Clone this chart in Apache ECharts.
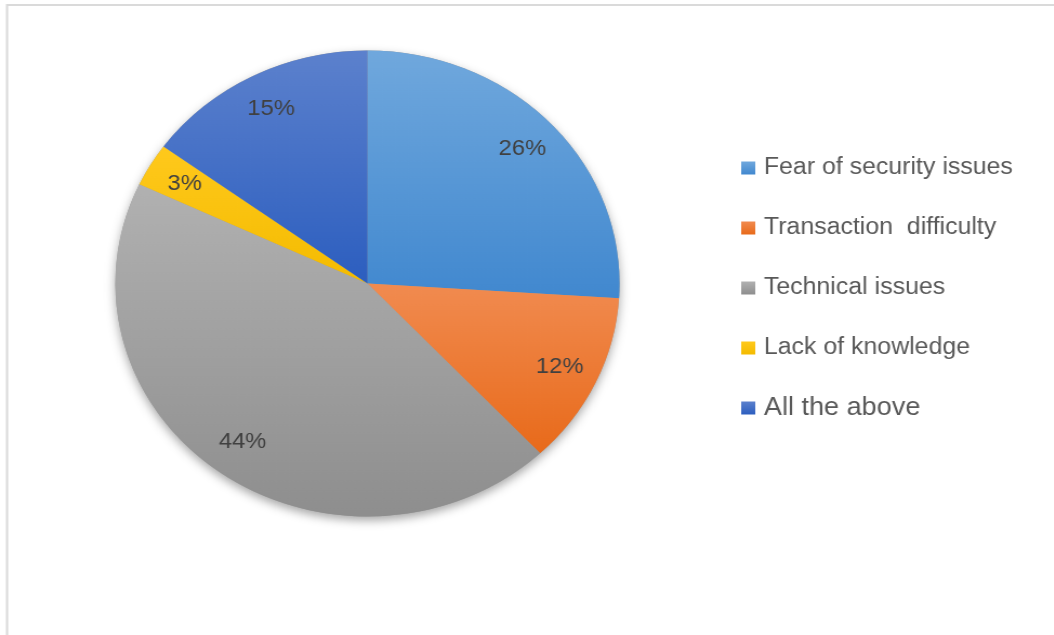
<!DOCTYPE html>
<html>
<head>
<meta charset="utf-8">
<style>
  html, body { margin: 0; padding: 0; background: #ffffff; overflow: hidden; }
  /* The chart is drawn a little narrower and widened horizontally, giving the oval pie */
  #chart { width: 974px; height: 635px; transform: scaleX(1.082); transform-origin: 0 0; }
</style>
<script src="https://cdn.jsdelivr.net/npm/echarts@6/dist/echarts.min.js"></script>
</head>
<body>
<div id="chart"></div>
<script>
// Reasons given, share of respondents (%)
const categories = [
  'Fear of security issues',
  'Transaction  difficulty',
  'Technical issues',
  'Lack of knowledge',
  'All the above'
];
const shares = [26, 12, 44, 3, 15];

// Top and bottom colours of each slice's vertical gradient
const topColors = ['#70a8dd', '#f18b50', '#b1b1b1', '#ffc91c', '#5c81cd'];
const bottomColors = ['#4188cf', '#e86a1a', '#8e8e8e', '#f4bb00', '#2c5ebf'];

const R = 233;
const center = [339.6, 283.5];

function grad(i) {
  return new echarts.graphic.LinearGradient(0, 0, 0, 1, [
    { offset: 0, color: topColors[i] },
    { offset: 1, color: bottomColors[i] }
  ]);
}

const sliceData = categories.map((name, i) => ({
  name: name,
  value: shares[i],
  itemStyle: { color: grad(i) }
}));

const chart = echarts.init(document.getElementById('chart'), null, { renderer: 'canvas' });

chart.setOption({
  animation: false,
  backgroundColor: '#ffffff',
  graphic: [{
    type: 'rect',
    silent: true,
    z: -10,
    shape: { x: 6.5, y: 5, width: 1200, height: 800 },
    style: { fill: 'none', stroke: '#dadada', lineWidth: 2 }
  }],
  legend: {
    orient: 'vertical',
    left: 685,
    top: 155,
    padding: 0,
    itemWidth: 13,
    itemHeight: 13,
    itemGap: 34,
    icon: 'rect',
    selectedMode: false,
    data: categories.map((name, i) => ({
      name: name,
      textStyle: i === 4 ? { fontSize: 25 } : {}
    })),
    textStyle: {
      fontFamily: '"Liberation Sans", Arial, sans-serif',
      fontSize: 23,
      lineHeight: 26,
      color: '#595959',
      padding: [0, 0, 0, 3]
    }
  },
  series: [
    {
      // soft drop shadow under the whole pie
      type: 'pie',
      silent: true,
      center: center,
      radius: [0, R],
      z: 1,
      label: { show: false },
      labelLine: { show: false },
      data: [{
        name: '',
        value: 1,
        itemStyle: {
          color: '#9a9a9a',
          shadowBlur: 10,
          shadowOffsetY: 4,
          shadowColor: 'rgba(0,0,0,0.35)'
        }
      }]
    },
    {
      type: 'pie',
      center: center,
      radius: [0, R],
      startAngle: 90,
      clockwise: true,
      silent: true,
      z: 2,
      itemStyle: { borderWidth: 0 },
      label: { show: false },
      labelLine: { show: false },
      data: sliceData
    },
    {
      // transparent ring that carries the percentage labels near the rim
      type: 'pie',
      center: center,
      radius: [R * 0.66, R],
      startAngle: 90,
      clockwise: true,
      silent: true,
      z: 3,
      itemStyle: { color: 'rgba(0,0,0,0)', borderWidth: 0 },
      label: {
        show: true,
        position: 'inside',
        formatter: '{c}%',
        fontFamily: '"Liberation Sans", Arial, sans-serif',
        fontSize: 22,
        color: '#404040'
      },
      labelLine: { show: false },
      data: categories.map((name, i) => ({ name: name, value: shares[i] }))
    }
  ]
});
</script>
</body>
</html>
